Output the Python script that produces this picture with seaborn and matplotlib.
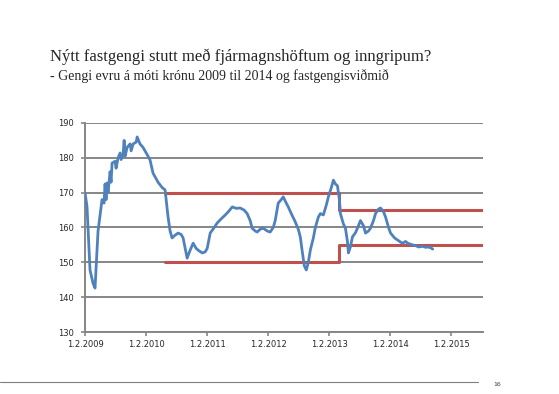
import numpy as np
import pandas as pd
import matplotlib
matplotlib.use('agg')
import matplotlib.pyplot as plt
import seaborn as sns

# EUR/ISK
fx_dates = [
    '2009-02-01', '2009-02-13', '2009-03-03', '2009-03-21', '2009-04-02', '2009-04-20',
    '2009-05-14', '2009-05-26', '2009-06-01', '2009-06-07', '2009-06-13', '2009-06-19',
    '2009-07-01', '2009-07-07', '2009-07-13', '2009-07-31', '2009-08-06',
    '2009-08-18', '2009-08-30', '2009-09-05', '2009-09-17', '2009-09-23', '2009-09-29',
    '2009-10-11', '2009-10-29', '2009-11-04',
    '2009-11-16', '2009-12-04', '2009-12-10', '2009-12-27', '2010-01-14', '2010-02-07', '2010-02-25',
    '2010-03-15', '2010-04-02', '2010-04-14', '2010-05-08', '2010-05-26', '2010-06-13',
    '2010-06-25', '2010-07-07', '2010-07-25', '2010-08-12', '2010-08-30', '2010-09-11',
    '2010-10-05', '2010-10-23', '2010-11-10', '2010-11-28', '2010-12-10', '2011-01-03',
    '2011-01-21', '2011-02-02', '2011-02-20', '2011-03-16', '2011-04-03', '2011-04-27',
    '2011-05-21', '2011-06-08', '2011-07-02', '2011-07-26', '2011-08-18', '2011-09-11',
    '2011-09-29', '2011-10-17', '2011-10-29', '2011-11-16', '2011-11-28', '2011-12-16',
    '2012-01-03', '2012-01-27', '2012-02-14', '2012-03-03', '2012-03-15', '2012-04-02',
    '2012-04-20', '2012-05-02', '2012-05-20', '2012-06-01', '2012-06-19', '2012-07-13',
    '2012-07-31', '2012-08-12', '2012-08-24', '2012-09-05', '2012-09-17', '2012-09-29',
    '2012-10-11', '2012-10-29', '2012-11-10', '2012-11-28', '2012-12-10', '2012-12-28',
    '2013-01-15', '2013-01-27', '2013-02-14', '2013-02-26', '2013-03-10', '2013-03-22',
    '2013-04-03', '2013-04-09', '2013-04-27', '2013-05-09', '2013-05-21', '2013-05-27',
    '2013-06-08', '2013-06-20', '2013-07-08', '2013-07-20', '2013-08-07', '2013-08-25',
    '2013-09-06', '2013-09-24', '2013-10-06', '2013-10-24', '2013-11-05', '2013-11-23',
    '2013-12-05', '2013-12-23', '2014-01-04', '2014-01-22', '2014-02-03', '2014-02-27',
    '2014-03-17', '2014-04-04', '2014-04-16', '2014-05-04', '2014-05-16', '2014-06-03',
    '2014-06-15', '2014-07-03', '2014-07-21', '2014-08-14', '2014-09-01', '2014-09-13',
    '2014-10-01', '2014-10-13',
]
fx_values = [
    170, 166, 147.8, 144, 142.6, 159,
    168, 167, 172.5, 168, 172.8, 170,
    176, 173, 178.5, 179, 177,
    180, 181.4, 179.5, 181, 185, 180.5,
    183, 184, 182,
    184, 184.5, 186, 184, 183, 181, 179.4,
    175.6, 174, 173, 171.5, 170.8, 163,
    159, 157, 157.8, 158.4, 158, 157,
    151.2, 153.5, 155.5, 154, 153.5, 152.7,
    153, 154, 158.4, 160, 161.3, 162.5,
    163.6, 164.5, 165.9, 165.5, 165.6, 165,
    164, 162, 159.8, 159, 158.7, 159.5,
    159.8, 159, 158.7, 160, 162, 167,
    168, 168.8, 167, 165.9, 164, 161.6,
    159.5, 157.3, 153, 149, 147.8, 150,
    153.5, 157, 160, 163, 164, 163.6,
    166.5, 168.8, 171.5, 173.6, 172.5, 172,
    168, 164, 161, 159.8, 156, 152.7,
    154.5, 157.3, 158.5, 159.8, 162, 160.5,
    158.4, 159, 159.8, 162, 164, 165.3,
    165.6, 164.5, 163, 160, 158.4, 157,
    156.4, 155.8, 155.5, 156, 155.5, 155.2,
    155, 154.8, 154.4, 154.6, 154.3, 154.4,
    154.2, 153.8,
]

# fastgengi band
band_dates = ['2010-05-26', '2013-04-01', '2015-08-10']
band_upper = [170, 165, 165]
band_lower = [150, 155, 155]

tick_dates = ['2009-02-01', '2010-02-01', '2011-02-01', '2012-02-01',
              '2013-02-01', '2014-02-01', '2015-02-01']
y_ticks = [130, 140, 150, 160, 170, 180, 190]

title = 'Nýtt fastgengi stutt með fjármagnshöftum og inngripum?'
subtitle = '- Gengi evru á móti krónu 2009 til 2014 og fastgengisviðmið'

sns.set_style("white")
plt.rcParams['font.family'] = ['DejaVu Sans']

blue = '#4F81BD'
red = '#C0504D'
grey = '#868686'

fx = pd.DataFrame({'date': pd.to_datetime(fx_dates), 'value': fx_values})
band = pd.DataFrame({'date': pd.to_datetime(band_dates),
                     'upper': band_upper, 'lower': band_lower})

fig = plt.figure(figsize=(5.59, 3.94), dpi=100)
ax = fig.add_axes([85 / 559, 1 - 332 / 394, 398 / 559, 209 / 394])

for col in ['upper', 'lower']:
    sns.lineplot(data=band, x='date', y=col, ax=ax, color=red, lw=2.2,
                 drawstyle='steps-post', estimator=None)
sns.lineplot(data=fx, x='date', y='value', ax=ax, color=blue, lw=2.0,
             estimator=None, zorder=3)

ax.set_xlim(pd.Timestamp('2009-02-01'), pd.Timestamp('2015-08-10'))
ax.set_ylim(130, 190)
ax.set_yticks(y_ticks)
ax.set_yticklabels([str(v) for v in y_ticks], fontsize=6)
ticks = pd.to_datetime(tick_dates)
ax.set_xticks(ticks)
ax.set_xticklabels(['{}.{}.{}'.format(t.day, t.month, t.year) for t in ticks], fontsize=6)
ax.set_xlabel('')
ax.set_ylabel('')

ax.grid(axis='y', color=grey, lw=1.4)
ax.set_axisbelow(True)
for s in ['top', 'right']:
    ax.spines[s].set_visible(False)
for s in ['left', 'bottom']:
    ax.spines[s].set_color(grey)
    ax.spines[s].set_linewidth(1.4)
ax.tick_params(axis='both', length=3, width=1.2, color=grey, direction='out',
               left=True, bottom=True)
ax.tick_params(axis='y', pad=5)
ax.tick_params(axis='x', pad=3)

fig.text(50 / 559, 1 - 57 / 394, title, family='Liberation Serif', fontsize=12,
         va='center', ha='left')
fig.text(50 / 559, 1 - 76 / 394, subtitle, family='Liberation Serif', fontsize=10,
         va='center', ha='left')

fig.add_artist(plt.Line2D([0, 478 / 559], [1 - 382 / 394] * 2, color='#7f7f7f', lw=0.8))
fig.text(497 / 559, 1 - 384 / 394, '16', fontsize=4.5, ha='center', va='center', color='#404040')

fig.savefig('out.png', dpi=100)
